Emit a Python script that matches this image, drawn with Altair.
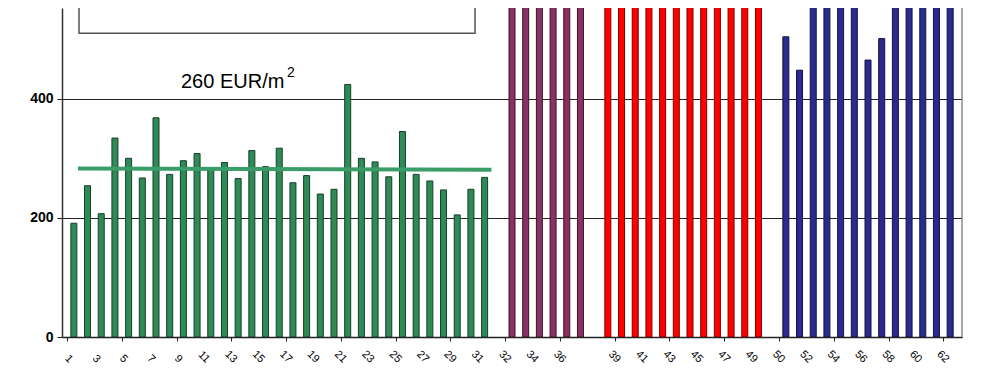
import altair as alt
import pandas as pd

# ---------------- data ----------------
green_labels = [str(i) for i in range(1, 32)]
green_values = [191, 254, 207, 334, 300, 267, 368, 273, 296, 308, 283, 293, 266, 313, 286, 317,
                259, 271, 240, 248, 424, 300, 294, 269, 345, 273, 262, 247, 205, 248, 268]
purple_labels = [str(i) for i in range(32, 38)]
purple_values = [780, 820, 760, 850, 800, 790]
red_labels = [str(i) for i in range(38, 50)]
red_values = [640, 690, 567, 700, 660, 720, 680, 650, 700, 670, 690, 710]
blue_labels = [str(i) for i in range(50, 63)]
blue_values = [504, 448, 559, 600, 620, 610, 465, 501, 640, 660, 650, 670, 690]

group_names = ["green", "purple", "red", "blue"]
group_fill = ["#2e8b57", "#8a3063", "#ff0000", "#2b2b8f"]
group_stroke = ["#173d27", "#3a1428", "#7a0000", "#121240"]

avg_x = [1.3, 31.5]
avg_y = [283, 281]
avg_text = "260 EUR/m"
avg_sup = "2"

y_ticks = [0, 200, 400]

# ---------------- build table ----------------
rows = []
label_rows = []
slot = 0
for gi, (g, labs, vals) in enumerate(zip(group_names,
                                         [green_labels, purple_labels, red_labels, blue_labels],
                                         [green_values, purple_values, red_values, blue_values])):
    if gi > 0:
        slot += 1  # empty category between the groups
    for lab, v in zip(labs, vals):
        slot += 1
        rows.append({"slot": slot, "label": lab, "value": v, "group": g})
        if slot % 2 == 1:  # every second category label is shown
            label_rows.append({"slot": slot, "label": lab})
n_slots = slot
df = pd.DataFrame(rows)
lab_df = pd.DataFrame(label_rows)

W, H = 900, 329
YMAX = 552.4

xscale = alt.Scale(domain=[0.5, n_slots + 0.5], nice=False, zero=False)
yscale = alt.Scale(domain=[0, YMAX], nice=False, zero=True)

bars = alt.Chart(df).mark_bar(size=6, strokeWidth=1, clip=True).encode(
    x=alt.X("slot:Q", scale=xscale,
            axis=alt.Axis(values=[i + 0.5 for i in range(0, n_slots + 1)],
                          labels=False,
                          tickSize=4, tickColor="#222", tickWidth=1,
                          domainColor="#222", domainWidth=1.5, grid=False, title=None)),
    y=alt.Y("value:Q", scale=yscale,
            axis=alt.Axis(values=y_ticks, grid=True, gridColor="#222", gridWidth=1,
                          tickSize=5, tickColor="#222", domainColor="#333", domainWidth=1.5,
                          labelFontSize=14, labelFontWeight="bold", labelFont="Liberation Sans",
                          labelColor="#000", labelPadding=4, title=None)),
    color=alt.Color("group:N", scale=alt.Scale(domain=group_names, range=group_fill), legend=None),
    stroke=alt.Stroke("group:N", scale=alt.Scale(domain=group_names, range=group_stroke), legend=None),
)

xlabels = alt.Chart(lab_df).mark_text(
    angle=45, align="right", baseline="middle", fontSize=11, font="Liberation Sans",
    color="#000", dx=-4
).encode(x=alt.X("slot:Q", scale=xscale), y=alt.value(H + 27), text="label:N")

line_df = pd.DataFrame({"slot": avg_x, "value": avg_y})
avg_line = alt.Chart(line_df).mark_line(color="#3a9d68", strokeWidth=4).encode(
    x=alt.X("slot:Q", scale=xscale), y=alt.Y("value:Q", scale=yscale))

txt = alt.Chart(pd.DataFrame({"t": [avg_text]})).mark_text(
    align="left", baseline="alphabetic", fontSize=20, font="Liberation Sans", color="#000"
).encode(text="t:N", x=alt.value(119), y=alt.value(79.5))
sup = alt.Chart(pd.DataFrame({"t": [avg_sup]})).mark_text(
    align="left", baseline="alphabetic", fontSize=14, font="Liberation Sans", color="#000"
).encode(text="t:N", x=alt.value(225), y=alt.value(69))

box = alt.Chart(pd.DataFrame({"a": [0]})).mark_rect(
    filled=False, stroke="#555", strokeWidth=1.5
).encode(x=alt.value(17), x2=alt.value(413), y=alt.value(-30), y2=alt.value(25.3))

right_border = alt.Chart(pd.DataFrame({"a": [0]})).mark_rule(
    color="#888", strokeWidth=1.5
).encode(x=alt.value(W), y=alt.value(0), y2=alt.value(H))

chart = alt.layer(bars, avg_line, xlabels, txt, sup, box, right_border).properties(
    width=W, height=H,
    autosize=alt.AutoSizeParams(type="none"),
    padding={"left": 54, "top": 0, "right": 20, "bottom": 36},
    background="white",
).configure_view(stroke=None)

chart.save("out.html", embed_options={"renderer": "svg", "actions": False})
